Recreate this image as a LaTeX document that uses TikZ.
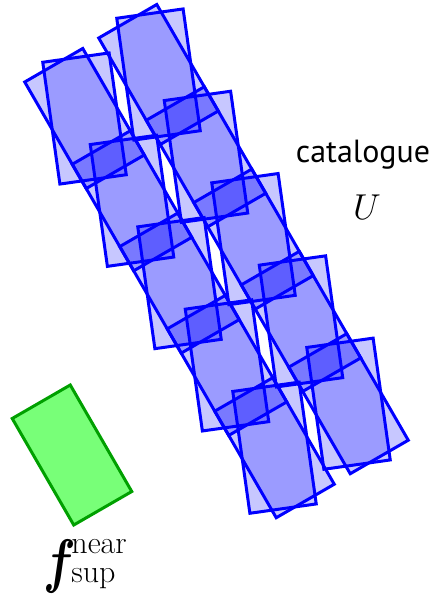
\RequirePackage{fix-cm}
\documentclass[tikz,border=0pt]{standalone}
\usepackage{amsmath,amsbsy}
\usepackage{graphicx}
\usepackage{fontspec}
\newfontfamily\labelfont{PT Sans}
\definecolor{featfill}{RGB}{120,255,120}
\definecolor{featline}{RGB}{0,160,0}
\begin{document}
\begin{tikzpicture}[x=0.5pt,y=-0.5pt,
  tile/.style={rectangle, draw=blue, fill=blue, fill opacity=0.22, line width=1.5pt,
    minimum width=33.5pt, minimum height=61.5pt, inner sep=0pt, outer sep=0pt},
  uprighttile/.style={tile, rotate=8},
  tiltedtile/.style={tile, rotate=30},
  feature/.style={rectangle, draw=featline, fill=featfill, line width=1.5pt,
    minimum width=33.5pt, minimum height=61.5pt, inner sep=0pt, outer sep=0pt, rotate=30},
  scripttext/.style={anchor=base west, inner sep=0pt, font=\fontsize{16}{17}\selectfont}]
\useasboundingbox (0,0) rectangle (433,594);
\foreach \k in {0,...,4}{
  \node[tiltedtile] (la\k) at ({84.5+47.5*\k},{118.5+82.3*\k}) {};
  \node[uprighttile] (lb\k) at ({84.5+47.5*\k},{118.5+82.3*\k}) {};
  \node[tiltedtile] (ra\k) at ({158.5+47.5*\k},{74.5+82.3*\k}) {};
  \node[uprighttile] (rb\k) at ({158.5+47.5*\k},{74.5+82.3*\k}) {};
}
\node[feature] (feat) at (72,455) {};
\node[font=\labelfont\fontsize{16}{18}\selectfont, anchor=base, inner sep=0pt] (cat) at (363,162) {catalogue};
\node[font=\fontsize{18}{20}\selectfont, anchor=base, inner sep=0pt] (U) at (367,219) {$U$};
\node[anchor=base west, inner sep=0pt] (fsym) at (43,581)
  {\fontsize{30}{32}\selectfont\scalebox{0.8}[1]{$\boldsymbol{f}$}};
\node[scripttext] (fnear) at (71,553.5) {near};
\node[scripttext] (fsup) at (71,582) {sup};
\end{tikzpicture}
\end{document}
